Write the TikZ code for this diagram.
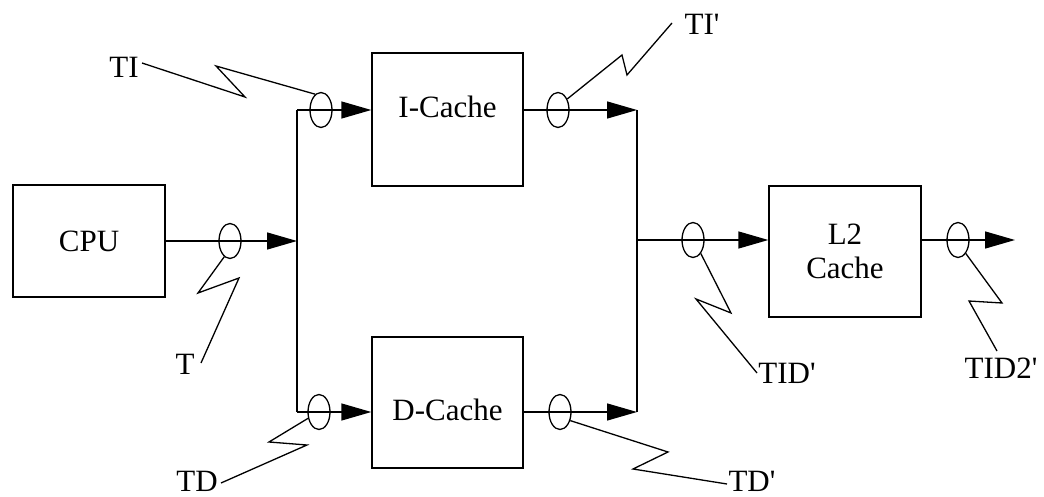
\documentclass[tikz,border=0pt]{standalone}
\usepackage{fontspec}
\setmainfont{Liberation Serif}
\usetikzlibrary{arrows.meta,shapes.geometric}
\begin{document}
\begin{tikzpicture}[x=1pt,y=-1pt,
  every node/.style={font=\fontsize{31}{34}\selectfont, inner sep=0pt},
  line/.style={line width=1.4pt},
  arr/.style={line width=1.4pt, -{Triangle[length=30pt,width=17pt]}},
  box/.style={draw, line width=1.4pt, align=center},
  probe/.style={draw, ellipse, line width=1.3pt, minimum width=22pt, minimum height=35pt},
  zig/.style={line width=1.3pt}]
\useasboundingbox (0,0) rectangle (1044,497);
% boxes
\node[box, minimum width=152pt, minimum height=112pt] (cpu) at (89,241) {CPU};
\node[box, minimum width=151pt, minimum height=133pt, text height=21pt, text depth=24pt] (ic) at (447.5,119.5) {I-Cache};
\node[box, minimum width=151pt, minimum height=131pt, text height=35pt, text depth=0pt] (dc) at (447.5,402.5) {D-Cache};
\node[box, minimum width=152pt, minimum height=131pt] (l2) at (845,251.5) {L2\\Cache};
% bus coordinates
\coordinate (jl) at (297,241);
\coordinate (jlt) at (297,110);
\coordinate (jlb) at (297,412);
\coordinate (jr) at (637,240);
\coordinate (jrt) at (637,110);
\coordinate (jrb) at (637,412);
\coordinate (out) at (1015,240);
% connectors
\draw[arr] (cpu.east) -- (jl);
\draw[line] (jlt) -- (jlb);
\draw[arr] (jlt) -- (jlt -| ic.west);
\draw[arr] (jlb) -- (jlb -| dc.west);
\draw[arr] (jrt -| ic.east) -- (jrt);
\draw[arr] (jrb -| dc.east) -- (jrb);
\draw[line] (jrt) -- (jrb);
\draw[arr] (jr) -- (jr -| l2.west);
\draw[arr] (l2.east |- out) -- (out);
% probes
\node[probe] (et) at (230,241) {};
\node[probe] (eti) at (321,110) {};
\node[probe] (etd) at (319,412) {};
\node[probe] (eti2) at (558,110) {};
\node[probe] (etd2) at (560,412) {};
\node[probe] (etid) at (693,240) {};
\node[probe] (etid2) at (958,240) {};
% labels
\node (lt) at (185,364) {T};
\node (lti) at (124,67) {TI};
\node (ltd) at (197,481) {TD};
\node (lti2) at (702,24) {TI\textquotesingle};
\node (ltd2) at (752,481) {TD\textquotesingle};
\node (ltid) at (787,373) {TID\textquotesingle};
\node (ltid2) at (1001,368) {TID2\textquotesingle};
% lightning leaders
\draw[zig] (et.250) -- (198,293) -- (239,278) -- (201,363);
\draw[zig] (142,63) -- (245,97) -- (216,66) -- (eti.110);
\draw[zig] (etd.210) -- (269,442) -- (307,445) -- (221,483);
\draw[zig] (eti2.50) -- (622,55) -- (627,75) -- (672,23);
\draw[zig] (etd2.320) -- (668,452) -- (633,469) -- (727,484);
\draw[zig] (etid.300) -- (731,313) -- (696,299) -- (757,373);
\draw[zig] (etid2.300) -- (1002,303) -- (969,301) -- (997,351);
\end{tikzpicture}
\end{document}
